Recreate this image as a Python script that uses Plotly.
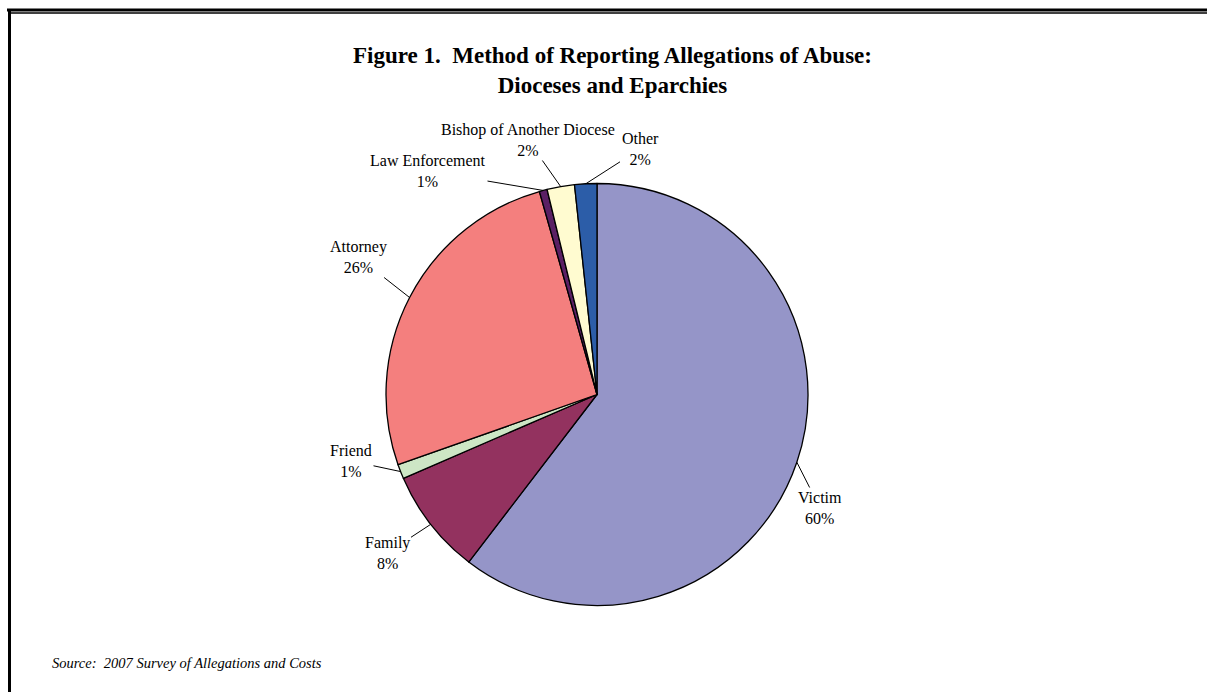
import math
import plotly.graph_objects as go

# ---- data ----
categories = ["Victim", "Family", "Friend", "Attorney", "Law Enforcement",
              "Bishop of Another Diocese", "Other"]
values = [60.4, 8.1, 1.1, 26.0, 0.6, 2.1, 1.7]
pct_labels = ["60%", "8%", "1%", "26%", "1%", "2%", "2%"]
colors = ["#9595C8", "#93325F", "#CDE6C5", "#F47F7E", "#5A2064", "#FFFBD0", "#2C5DA8"]

title_text = "<b>Figure 1.  Method of Reporting Allegations of Abuse:<br>Dioceses and Eparchies</b>"
source_text = "<i>Source:  2007 Survey of Allegations and Costs</i>"

# ---- layout geometry (pixels) ----
W, H = 1207, 692
cx, cy, R = 597, 394.5, 211
# text-block centres for each label (pixels)
label_centers = [(820, 508), (387, 553), (351, 461), (358, 257),
                 (428, 171), (528, 140), (640, 149)]
FONT = "Liberation Serif, Times New Roman, serif"

def px(x):
    return x / W

def py(y):
    return 1 - y / H

fig = go.Figure()
fig.add_trace(go.Pie(
    labels=categories, values=values, sort=False, direction="clockwise",
    rotation=0, textinfo="none",
    marker=dict(colors=colors, line=dict(color="black", width=1.3)),
    domain=dict(x=[px(cx - R), px(cx + R)], y=[py(cy + R), py(cy - R)]),
    showlegend=False,
))

# labels with leader lines, anchored at mid-angle of each slice
total = sum(values)
annotations = []
cum = 0.0
for cat, val, pl, (tx, ty) in zip(categories, values, pct_labels, label_centers):
    mid = (cum + val / 2) / total * 2 * math.pi
    cum += val
    ex = cx + R * math.sin(mid)
    ey = cy - R * math.cos(mid)
    annotations.append(dict(
        x=px(ex), y=py(ey), xref="paper", yref="paper",
        text=f"{cat}<br>{pl}", showarrow=True, arrowhead=0, arrowwidth=1,
        arrowcolor="black", ax=tx - ex, ay=ty - ey, standoff=0, startstandoff=0,
        font=dict(family=FONT, size=16, color="black"),
        align="center",
    ))

annotations.append(dict(
    x=px(612), y=py(70), xref="paper", yref="paper", showarrow=False,
    text=title_text, xanchor="center", yanchor="middle",
    font=dict(family=FONT, size=23, color="black"),
))
annotations.append(dict(
    x=px(50), y=py(663), xref="paper", yref="paper", showarrow=False,
    text=source_text, xanchor="left", yanchor="middle",
    font=dict(family=FONT, size=14.5, color="black"),
))

shapes = [
    dict(type="line", xref="paper", yref="paper", x0=px(7), x1=1, y0=py(10), y1=py(10),
         line=dict(color="black", width=3)),
    dict(type="line", xref="paper", yref="paper", x0=px(9.5), x1=1, y0=py(13), y1=py(13),
         line=dict(color="black", width=1.5)),
    dict(type="line", xref="paper", yref="paper", x0=px(9.5), x1=px(9.5), y0=py(9), y1=0,
         line=dict(color="black", width=3)),
]

fig.update_layout(
    width=W, height=H, margin=dict(l=0, r=0, t=0, b=0),
    paper_bgcolor="white", plot_bgcolor="white",
    annotations=annotations, shapes=shapes,
)

fig.write_html("out.html", config={"displayModeBar": False},
               post_script="document.body.style.margin='0';")
